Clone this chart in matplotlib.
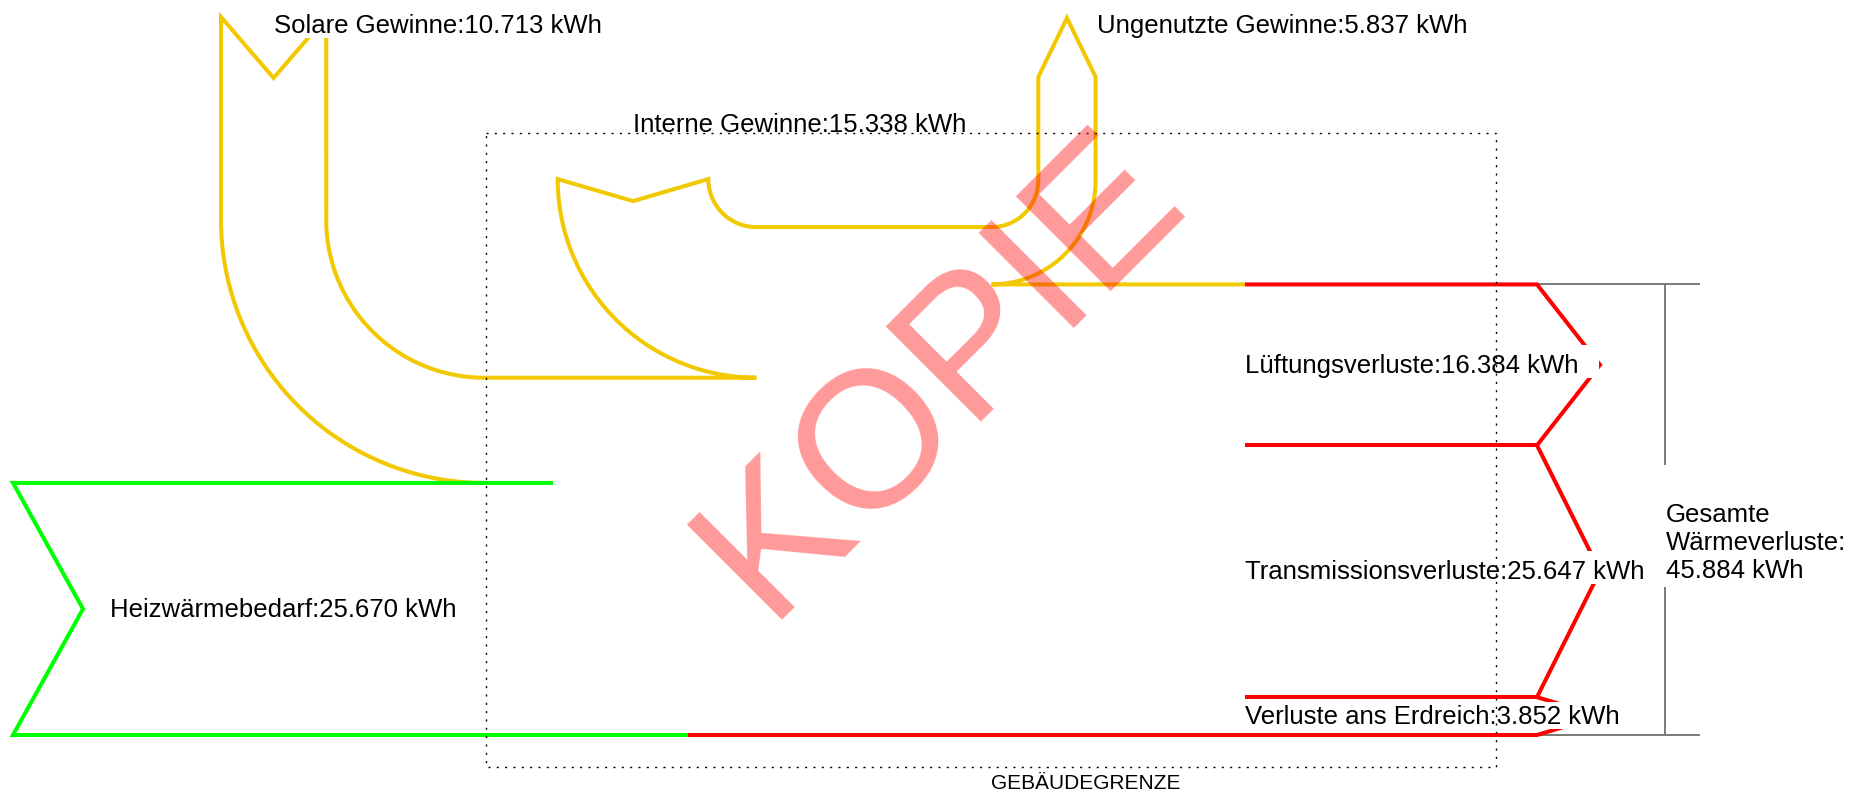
import numpy as np
import matplotlib
matplotlib.use('Agg')
import matplotlib.pyplot as plt
from matplotlib.patches import Rectangle

# energy balance in kWh
gain_labels = ['Heizwärmebedarf', 'Solare Gewinne', 'Interne Gewinne']
gain_values = [25.670, 10.713, 15.338]
unused_label = 'Ungenutzte Gewinne'
unused_value = 5.837
loss_labels = ['Lüftungsverluste', 'Transmissionsverluste', 'Verluste ans Erdreich']
loss_values = [16.384, 25.647, 3.852]
total_label = 'Gesamte\nWärmeverluste:'
total_value = 45.884
boundary_label = 'GEBÄUDEGRENZE'
stamp = 'KOPIE'

YELLOW = '#F2C800'
GREEN = '#00FF00'
RED = '#FF0000'
GREY = '#7a7a7a'
LW = 2.9
FONT = 'Liberation Sans'
FS = 18.5

# layout (pixel units, y pointing down)
S = 9.82            # px per kWh
Y_BOT = 735.0
X_LEFT = 13.0
GREEN_END = 553.0
X_SPLIT = 688.0     # green -> red on bottom edge
X_LOSS = 1245.0     # yellow -> red on top edge
X_RIGHT = 1537.0
TIP = 63.0
SOL_X, SOL_R, SOL_TOP, SOL_NOTCH = 221.0, 158.0, 17.0, 61.0
INT_X, INT_R, INT_NOTCH = 557.7, 48.0, 22.0
UNG_X, UNG_R, UNG_SHOULDER, UNG_TIP = 1038.3, 46.7, 77.0, 18.0
BRACKET_X, BRACKET_END = 1665.0, 1699.0
BOUND = (486.0, 133.0, 1496.0, 767.0)


def arc(cx, cy, r, a0, a1, n=60):
    t = np.radians(np.linspace(a0, a1, n))
    return list(zip(cx + r * np.cos(t), cy + r * np.sin(t)))


def kwh(v):
    return '%.3f kWh' % v


fig = plt.figure(figsize=(18.5, 7.92), dpi=100)
ax = fig.add_axes([0, 0, 1, 1])
ax.set_xlim(0, 1850)
ax.set_ylim(792, 0)
ax.axis('off')

w_h, w_s, w_i = [v * S for v in gain_values]
w_u = unused_value * S
heiz_top = Y_BOT - w_h
sol_join = heiz_top - w_s
int_join = sol_join - w_i
loss_top = int_join + w_u

s_xi = SOL_X + w_s
s_cx, s_cy = s_xi + SOL_R, heiz_top - SOL_R - w_s
i_xi = INT_X + w_i
i_cx, i_cy = i_xi + INT_R, sol_join - INT_R - w_i
u_cx, u_cy = UNG_X - UNG_R, int_join - UNG_R
u_xo = UNG_X + w_u

# yellow: solar + internal gains, unused gains
pts = arc(s_cx, s_cy, SOL_R + w_s, 90, 180)
pts += [(SOL_X, SOL_TOP), (SOL_X + w_s / 2, SOL_TOP + SOL_NOTCH), (s_xi, SOL_TOP)]
pts += arc(s_cx, s_cy, SOL_R, 180, 90)
pts += arc(i_cx, i_cy, INT_R + w_i, 90, 180)
pts += [(INT_X + w_i / 2, i_cy + INT_NOTCH)]
pts += arc(i_cx, i_cy, INT_R, 180, 90)
pts += arc(u_cx, u_cy, UNG_R, 90, 0)
pts += [(UNG_X, UNG_SHOULDER), (UNG_X + w_u / 2, UNG_TIP), (u_xo, UNG_SHOULDER)]
pts += arc(u_cx, u_cy, UNG_R + w_u, 0, 90)
pts += [(X_LOSS, loss_top)]
xs, ys = zip(*pts)
ax.plot(xs, ys, color=YELLOW, lw=LW, solid_joinstyle='miter', solid_capstyle='butt', zorder=2)

# green: heating demand
g = [(GREEN_END, heiz_top), (X_LEFT, heiz_top), (X_LEFT + 70, (heiz_top + Y_BOT) / 2),
     (X_LEFT, Y_BOT), (X_SPLIT, Y_BOT)]
xs, ys = zip(*g)
ax.plot(xs, ys, color=GREEN, lw=LW, solid_joinstyle='miter', solid_capstyle='butt', zorder=2)

# red: losses
edges = loss_top + np.concatenate([[0], np.cumsum(loss_values)]) * S
r = [(X_LOSS, edges[0]), (X_RIGHT, edges[0])]
for k in range(len(loss_values)):
    r += [(X_RIGHT + TIP, (edges[k] + edges[k + 1]) / 2), (X_RIGHT, edges[k + 1])]
r += [(X_SPLIT, edges[-1])]
xs, ys = zip(*r)
ax.plot(xs, ys, color=RED, lw=LW, solid_joinstyle='miter', solid_capstyle='butt', zorder=2.1)
for e in edges[1:-1]:
    ax.plot([X_LOSS, X_RIGHT], [e, e], color=RED, lw=LW, solid_capstyle='butt', zorder=2.1)

# bracket for total losses
ax.plot([X_RIGHT, BRACKET_END], [edges[0], edges[0]], color=GREY, lw=1.4, zorder=1)
ax.plot([X_RIGHT, BRACKET_END], [edges[-1], edges[-1]], color=GREY, lw=1.4, zorder=1)
ax.plot([BRACKET_X, BRACKET_X], [edges[0], edges[-1]], color=GREY, lw=1.4, zorder=1)

# building boundary
bx0, by0, bx1, by1 = BOUND
ax.add_patch(Rectangle((bx0, by0), bx1 - bx0, by1 - by0, fill=False, ec='black',
                       lw=1.0, ls=(0, (1.5, 4.5)), zorder=4.5))
ax.text((bx0 + bx1) / 2, 789, boundary_label, ha='left', va='baseline', fontsize=15,
        family=FONT, zorder=5)

boxed = []


def label(x, y, s, pads=None, **kw):
    t = ax.text(x, y, s, fontsize=FS, family=FONT, color='black', zorder=5, **kw)
    if pads is not None:
        boxed.append((t, pads))
    return t


label(SOL_X + w_s / 2, SOL_TOP + 16, gain_labels[1] + ':' + kwh(gain_values[1]),
      pads=(0, 20, 9, 0), ha='left', va='baseline')
label(u_xo + 1, 33, unused_label + ':' + kwh(unused_value),
      pads=(0, 20, 9, 0), ha='left', va='baseline')
label(INT_X + w_i / 2, 132, gain_labels[2] + ':' + kwh(gain_values[2]),
      ha='left', va='baseline')
label(110, (heiz_top + Y_BOT) / 2 + 8, gain_labels[0] + ':' + kwh(gain_values[0]),
      pads=(0, 20, 9, 0), ha='left', va='baseline')
top_pads = [9, 9, 3]
for k in range(len(loss_values)):
    label(X_LOSS, (edges[k] + edges[k + 1]) / 2 + 8, loss_labels[k] + ':' + kwh(loss_values[k]),
          pads=(0, 20, top_pads[k], 0), ha='left', va='baseline')
label(BRACKET_X + 1, 503, total_label + '\n' + kwh(total_value), pads=(4, 5, 38, 4),
      ha='left', va='top', linespacing=1.2)

# watermark
ax.text(977, 409.5, stamp, fontsize=140, family=FONT, color='red', alpha=0.4,
        rotation=45, rotation_mode='anchor', ha='center', va='baseline', zorder=6)

# white backgrounds behind labels
fig.canvas.draw()
rend = fig.canvas.get_renderer()
inv = ax.transData.inverted()
for t, (pl, pr, pt, pb) in boxed:
    bb = t.get_window_extent(rend)
    (x0, y0), (x1, y1) = inv.transform([[bb.x0, bb.y0], [bb.x1, bb.y1]])
    top, bot = min(y0, y1), max(y0, y1)
    ax.add_patch(Rectangle((x0 - pl, top - pt), (x1 - x0) + pl + pr, (bot - top) + pt + pb,
                           fc='white', ec='none', zorder=4))

fig.savefig('out.png', dpi=100)
